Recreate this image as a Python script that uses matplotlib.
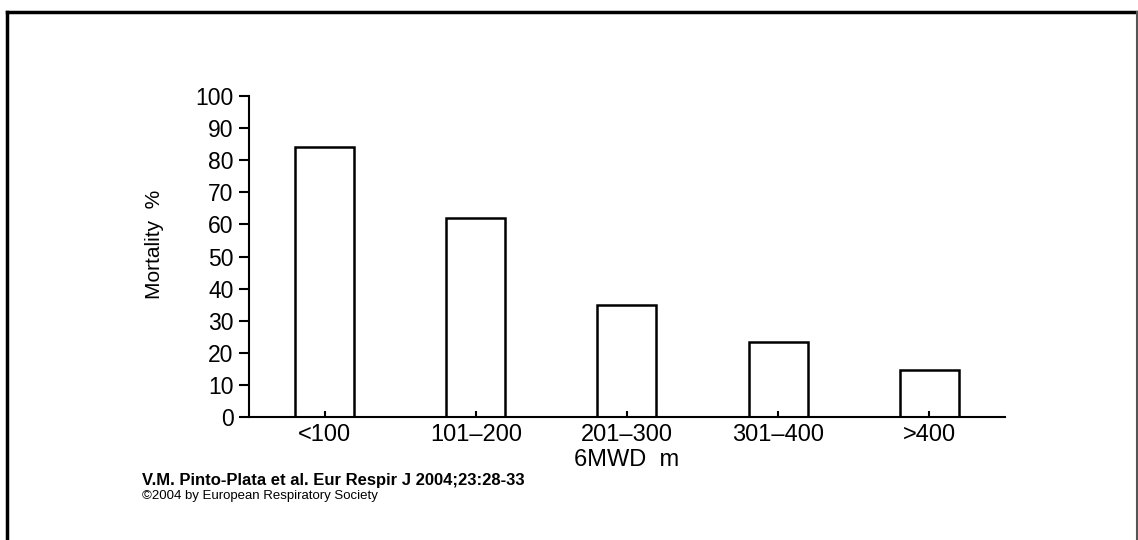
import matplotlib.pyplot as plt
from matplotlib.lines import Line2D
import numpy as np

categories = ['<100', '101\u2013200', '201\u2013300', '301\u2013400', '>400']
mortality = [84, 62, 35, 23.5, 14.5]
yticks = [0, 10, 20, 30, 40, 50, 60, 70, 80, 90, 100]

plt.rcParams['font.family'] = ['Liberation Sans', 'DejaVu Sans']

fig = plt.figure(figsize=(11.38, 5.4), dpi=100)
ax = fig.add_axes([0.2188, 0.2278, 0.6643, 0.5944])

x = np.arange(len(categories))
ax.bar(x, mortality, 0.39, color='white', edgecolor='black', linewidth=1.8)

ax.set_xlim(-0.5, 4.5)
ax.set_ylim(0, 100)
ax.set_yticks(yticks)
ax.set_xticks(x)
ax.set_xticklabels(categories)
ax.tick_params(axis='y', direction='out', length=7, width=1.5, labelsize=16.5, pad=4)
ax.tick_params(axis='x', direction='in', length=4, width=1.5, labelsize=17, pad=5)

for side in ['top', 'right']:
    ax.spines[side].set_visible(False)
ax.spines['left'].set_linewidth(1.5)
ax.spines['bottom'].set_linewidth(1.5)

ax.set_xlabel('6MWD  m', fontsize=17, labelpad=2)
fig.text(0.1355, 0.548, 'Mortality  %', rotation=90, ha='center', va='center',
         fontsize=15)

fig.text(142 / 1138, 1 - 480 / 540, 'V.M. Pinto-Plata et al. Eur Respir J 2004;23:28-33',
         fontsize=12, fontweight='bold', ha='left', va='center')
fig.text(142 / 1138, 1 - 496.5 / 540, '\u00a92004 by European Respiratory Society',
         fontsize=9.5, ha='left', va='center')

# page frame
fig.add_artist(Line2D([6.5 / 1138, 6.5 / 1138], [0, 1 - 11.5 / 540], color='black', lw=2.5,
                      solid_capstyle='projecting', transform=fig.transFigure))
fig.add_artist(Line2D([6.5 / 1138, 1], [1 - 11.5 / 540, 1 - 11.5 / 540], color='black', lw=2.5,
                      solid_capstyle='projecting', transform=fig.transFigure))
fig.add_artist(Line2D([1136.5 / 1138, 1136.5 / 1138], [0, 1 - 11.5 / 540], color='#555555', lw=1.5,
                      transform=fig.transFigure))

fig.savefig('out.png', dpi=100)
